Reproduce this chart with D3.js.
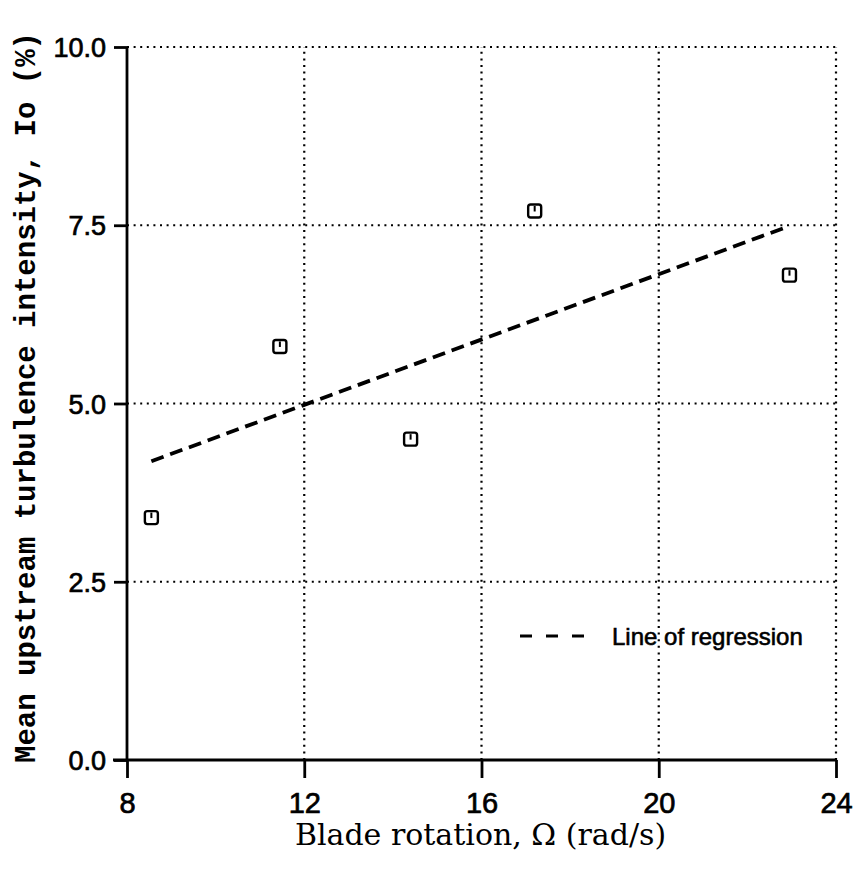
<!DOCTYPE html>
<html>
<head>
<meta charset="utf-8">
<title>Turbulence intensity vs blade rotation</title>
<script src="https://d3js.org/d3.v7.min.js"></script>
<style>
  body { margin: 0; background: #fff; }
  svg text { fill: #000; }
</style>
</head>
<body>
<script>
// data
var rotation = [8.55, 11.45, 14.4, 17.2, 22.95];   // rad/s
var intensity = [3.4, 5.8, 4.5, 7.7, 6.8];        // %
var regX = [8.55, 22.95];                          // dashed regression line ends
var regY = [4.19, 7.49];
var xTicks = [8, 12, 16, 20, 24];
var yTicks = [0, 2.5, 5, 7.5, 10];

var width = 857, height = 876;
var m = {left: 127, right: 21, top: 47, bottom: 116};

var svg = d3.select("body").append("svg")
    .attr("width", width)
    .attr("height", height);

var x = d3.scaleLinear().domain([8, 24]).range([m.left, width - m.right]);
var y = d3.scaleLinear().domain([0, 10]).range([height - m.bottom, m.top]);

// dotted grid (also makes the top and right border)
svg.append("g").selectAll("line")
    .data(xTicks.slice(1))
    .enter().append("line")
    .attr("x1", d => x(d)).attr("x2", d => x(d))
    .attr("y1", y(0)).attr("y2", y(10))
    .attr("stroke", "#000").attr("stroke-width", 2.2)
    .attr("stroke-dasharray", "2,4.6");
svg.append("g").selectAll("line")
    .data(yTicks.slice(1))
    .enter().append("line")
    .attr("x1", x(8)).attr("x2", x(24))
    .attr("y1", d => y(d)).attr("y2", d => y(d))
    .attr("stroke", "#000").attr("stroke-width", 2.2)
    .attr("stroke-dasharray", "2,4.6");

// axes
var xAxis = d3.axisBottom(x).tickValues(xTicks).tickSize(18).tickPadding(14)
    .tickFormat(d3.format("d"));
var gx = svg.append("g").attr("transform", "translate(0," + y(0) + ")").call(xAxis);
var yAxis = d3.axisLeft(y).tickValues(yTicks).tickSize(13).tickPadding(8)
    .tickFormat(d3.format(".1f"));
var gy = svg.append("g").attr("transform", "translate(" + x(8) + ",0)").call(yAxis);

gx.select(".domain").attr("d", "M" + (x(8) - 14) + ",0H" + x(24));
gy.select(".domain").attr("d", "M0," + y(10) + "V" + y(0));
[gx, gy].forEach(function(g) {
    g.select(".domain").attr("stroke", "#000").attr("stroke-width", 2.8);
    g.selectAll(".tick line").attr("stroke", "#000").attr("stroke-width", 2.8);
    g.selectAll(".tick text")
        .style("font-family", "'Liberation Sans', Arial, sans-serif")
        .attr("stroke", "#000").attr("stroke-width", 0.7);
});
gy.selectAll(".tick text").style("font-size", "27px").attr("dy", "0.36em");
gx.selectAll(".tick text").style("font-size", "29px").attr("dy", "0.72em");

// regression line
var line = d3.line().x(d => x(d[0])).y(d => y(d[1]));
svg.append("path")
    .datum(d3.zip(regX, regY))
    .attr("d", line)
    .attr("fill", "none")
    .attr("stroke", "#000")
    .attr("stroke-width", 3.8)
    .attr("stroke-dasharray", "13,7");

// square markers
var pts = svg.append("g").selectAll("g")
    .data(d3.zip(rotation, intensity))
    .enter().append("g")
    .attr("transform", d => "translate(" + x(d[0]) + "," + y(d[1]) + ")");
pts.append("rect")
    .attr("x", -6.5).attr("y", -6.5).attr("width", 13).attr("height", 13)
    .attr("rx", 2.5)
    .attr("fill", "#fff").attr("stroke", "#000").attr("stroke-width", 2.4);
pts.append("line")
    .attr("x1", 0).attr("x2", 0).attr("y1", -5).attr("y2", 0.5)
    .attr("stroke", "#000").attr("stroke-width", 2);

// legend
var lg = svg.append("g").attr("transform", "translate(520,636)");
lg.append("line")
    .attr("x1", 0).attr("x2", 64).attr("y1", 0).attr("y2", 0)
    .attr("stroke", "#000").attr("stroke-width", 3.2)
    .attr("stroke-dasharray", "12,14");
lg.append("text")
    .attr("x", 92).attr("y", 9)
    .style("font-family", "'Liberation Sans', Arial, sans-serif")
    .style("font-size", "24px")
    .attr("stroke", "#000").attr("stroke-width", 0.6)
    .text("Line of regression");

// axis titles
svg.append("text")
    .attr("x", (x(8) + x(24)) / 2 - 1)
    .attr("y", 845)
    .attr("text-anchor", "middle")
    .style("font-family", "'DejaVu Serif', 'Liberation Serif', serif")
    .style("font-size", "30px")
    .text("Blade rotation, \u03A9 (rad/s)");

svg.append("text")
    .attr("transform", "translate(35," + ((y(0) + y(10)) / 2 - 6) + ") rotate(-90)")
    .attr("text-anchor", "middle")
    .style("font-family", "'Liberation Mono', 'DejaVu Sans Mono', monospace")
    .style("font-weight", "bold")
    .style("font-size", "29px")
    .text("Mean upstream turbulence intensity, Io (%)");
</script>
</body>
</html>
